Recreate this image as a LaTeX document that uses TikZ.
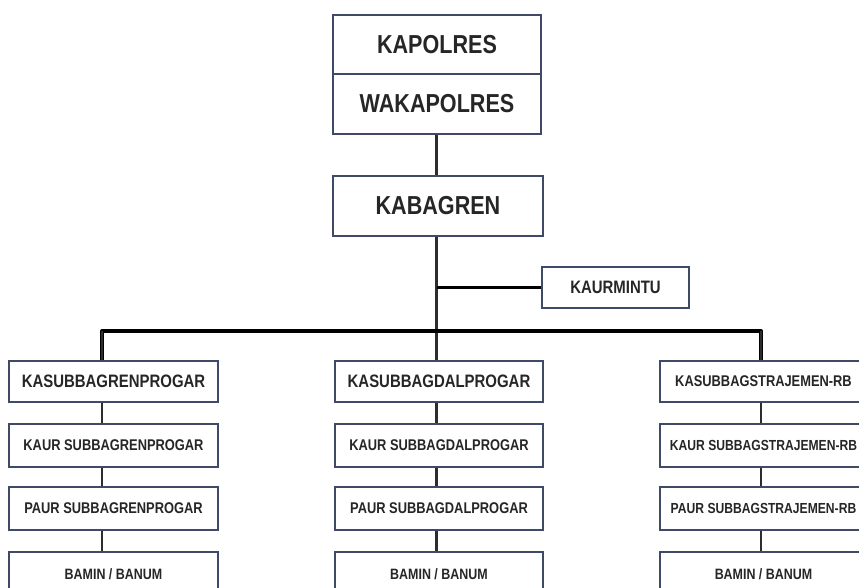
\documentclass[tikz,border=0pt]{standalone}
\usepackage{fontspec}
\newfontfamily\narrowbold[FakeStretch=0.83]{Liberation Sans Bold}
\definecolor{boxline}{RGB}{62,74,104}
\definecolor{conn}{RGB}{45,45,45}
\begin{document}
\begin{tikzpicture}[x=1pt,y=-1pt,
  orgbox/.style={draw=boxline,line width=1.1pt,fill=white,rectangle,inner sep=0pt,text=black!85},
  bigbox/.style={orgbox,minimum width=208pt,minimum height=60pt,font=\narrowbold\fontsize{26}{28}\selectfont},
  colbox/.style={orgbox,minimum height=42pt},
  fbig/.style={font=\narrowbold\fontsize{18}{20}\selectfont},
  fmid/.style={font=\narrowbold\fontsize{15.5}{17}\selectfont},
  fnarrow/.style={font=\narrowbold\fontsize{14.6}{17}\selectfont},
  fsmall/.style={font=\narrowbold\fontsize{15}{17}\selectfont},
  vconn/.style={draw=conn,line width=2.4pt},
  hbar/.style={draw=black,line width=3.4pt}]
\useasboundingbox (0,0) rectangle (859,587);
% top
\node[bigbox,minimum height=59pt] (kapolres) at (437,44.5) {KAPOLRES};
\node[bigbox] (wakapolres) at (437,104) {WAKAPOLRES};
\node[bigbox,minimum width=210pt] (kabagren) at (438,206) {KABAGREN};
\node[orgbox,fbig,minimum width=147pt,minimum height=41pt] (kaurmintu) at (615.5,287.5) {KAURMINTU};
% columns
\coordinate (cl) at (102,331);
\coordinate (cm) at (436.5,331);
\coordinate (cr) at (761,331);
\coordinate (kj) at (436.5,287.5);
% left
\node[colbox,fbig,minimum width=209pt,minimum height=41pt] (l1) at (113.5,381.5) {KASUBBAGRENPROGAR};
\node[colbox,fmid,minimum width=209pt,minimum height=43pt] (l2) at (113.5,445.5) {KAUR SUBBAGRENPROGAR};
\node[colbox,fmid,minimum width=209pt,minimum height=43pt] (l3) at (113.5,508.5) {PAUR SUBBAGRENPROGAR};
\node[colbox,fsmall,minimum width=209pt,minimum height=44pt] (l4) at (113.5,574) {BAMIN / BANUM};
% middle
\node[colbox,fbig,minimum width=208pt,minimum height=41pt] (m1) at (439,381.5) {KASUBBAGDALPROGAR};
\node[colbox,fmid,minimum width=208pt,minimum height=43pt] (m2) at (439,445.5) {KAUR SUBBAGDALPROGAR};
\node[colbox,fmid,minimum width=208pt,minimum height=43pt] (m3) at (439,508.5) {PAUR SUBBAGDALPROGAR};
\node[colbox,fsmall,minimum width=208pt,minimum height=44pt] (m4) at (439,574) {BAMIN / BANUM};
% right
\node[colbox,fmid,minimum width=207pt,minimum height=41pt] (r1) at (763.5,381.5) {KASUBBAGSTRAJEMEN-RB};
\node[colbox,fnarrow,minimum width=207pt,minimum height=43pt] (r2) at (763.5,445.5) {KAUR SUBBAGSTRAJEMEN-RB};
\node[colbox,fnarrow,minimum width=207pt,minimum height=43pt] (r3) at (763.5,508.5) {PAUR SUBBAGSTRAJEMEN-RB};
\node[colbox,fsmall,minimum width=207pt,minimum height=44pt] (r4) at (763.5,574) {BAMIN / BANUM};
% connectors
\draw[vconn] (wakapolres.south -| cm) -- (kabagren.north -| cm);
\draw[vconn] (kabagren.south -| cm) -- (m1.north -| cm);
\draw[hbar] (kj) -- (kaurmintu.west);
\draw[hbar,line join=round] (l1.north -| cl) -- (cl) -- (cr) -- (r1.north -| cr);
\draw[vconn] (cl) -- (l1.north -| cl);
\draw[vconn] (cr) -- (r1.north -| cr);
\foreach \c/\a/\b in {cl/l1/l2,cl/l2/l3,cl/l3/l4,cm/m1/m2,cm/m2/m3,cm/m3/m4,cr/r1/r2,cr/r2/r3,cr/r3/r4}
  \draw[vconn] (\a.south -| \c) -- (\b.north -| \c);
\end{tikzpicture}
\end{document}
